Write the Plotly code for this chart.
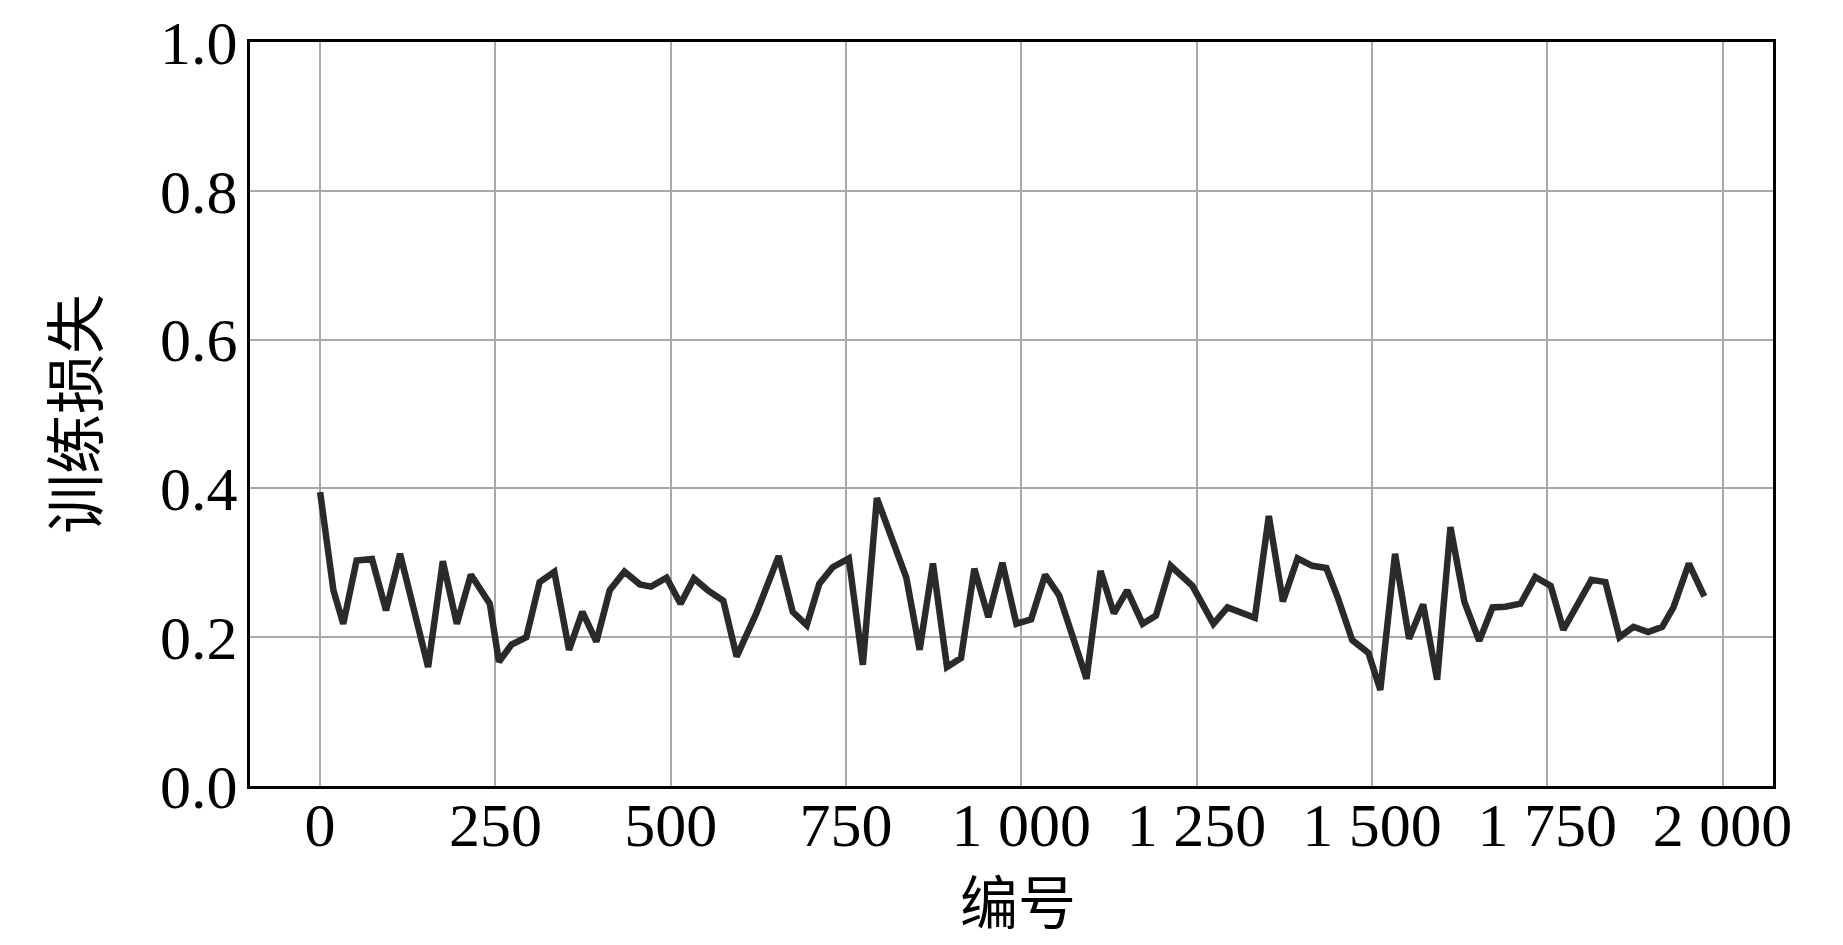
import plotly.graph_objects as go

steps = [0, 19, 33, 52, 74, 94, 114, 154, 175, 195, 215, 230, 242, 255, 273, 294, 313, 334,
         355, 374, 394, 413, 434, 456, 472, 494, 514, 533, 553, 575, 594, 622, 654, 674, 694,
         712, 731, 754, 774, 794, 817, 836, 855, 874, 894, 914, 933, 953, 973, 993, 1014,
         1034, 1054, 1093, 1113, 1132, 1151, 1173, 1192, 1213, 1244, 1274, 1294, 1315, 1333,
         1353, 1373, 1394, 1415, 1435, 1451, 1472, 1495, 1512, 1533, 1553, 1573, 1593, 1612,
         1632, 1653, 1672, 1690, 1712, 1733, 1755, 1773, 1813, 1833, 1853, 1873, 1894, 1914,
         1930, 1952, 1974]
loss = [0.395, 0.263, 0.218, 0.303, 0.305, 0.236, 0.312, 0.160, 0.302, 0.218, 0.284, 0.260,
        0.245, 0.167, 0.190, 0.200, 0.274, 0.288, 0.183, 0.234, 0.194, 0.263, 0.288, 0.271,
        0.268, 0.280, 0.245, 0.279, 0.263, 0.249, 0.174, 0.232, 0.309, 0.234, 0.216, 0.272,
        0.294, 0.306, 0.163, 0.387, 0.325, 0.280, 0.183, 0.299, 0.160, 0.172, 0.292, 0.227,
        0.300, 0.218, 0.224, 0.284, 0.256, 0.144, 0.289, 0.232, 0.263, 0.218, 0.229, 0.296,
        0.269, 0.218, 0.240, 0.232, 0.226, 0.363, 0.248, 0.306, 0.296, 0.293, 0.254, 0.196,
        0.179, 0.129, 0.312, 0.198, 0.244, 0.143, 0.348, 0.247, 0.195, 0.240, 0.241, 0.245,
        0.281, 0.269, 0.210, 0.277, 0.274, 0.200, 0.214, 0.207, 0.214, 0.240, 0.299, 0.255]

x_tickvals = [0, 250, 500, 750, 1000, 1250, 1500, 1750, 2000]
x_ticktext = ["0", "250", "500", "750", "1 000", "1 250", "1 500", "1 750", "2 000"]
y_tickvals = [0.0, 0.2, 0.4, 0.6, 0.8, 1.0]
y_ticktext = ["0.0", "0.2", "0.4", "0.6", "0.8", "1.0"]

x_title = "编号"
y_title = "训练损失"

serif = "Liberation Serif, Times New Roman, serif"
cjk = "Noto Sans CJK SC"

fig = go.Figure()
fig.add_trace(go.Scatter(x=steps, y=loss, mode="lines",
                         line=dict(color="#2a2a2a", width=6.5), showlegend=False))

fig.update_layout(
    width=1827, height=929,
    paper_bgcolor="white", plot_bgcolor="white",
    margin=dict(l=242, r=62, t=34, b=151, autoexpand=False),
    xaxis=dict(
        range=[-100, 2072], automargin=False,
        tickvals=x_tickvals, ticktext=x_ticktext,
        tickfont=dict(family=serif, size=62, color="black"),
        showgrid=True, gridcolor="#a8a8a8", gridwidth=1.5,
        zeroline=False,
        showline=True, linecolor="black", linewidth=3, mirror=True,
        ticks="outside", ticklen=1, tickcolor="rgba(0,0,0,0)",
        ticklabelstandoff=-18, ticklabeloverflow="allow",
    ),
    yaxis=dict(
        range=[0, 1], automargin=False,
        tickvals=y_tickvals, ticktext=y_ticktext,
        tickfont=dict(family=serif, size=62, color="black"),
        showgrid=True, gridcolor="#a8a8a8", gridwidth=1.5,
        zeroline=False,
        showline=True, linecolor="black", linewidth=3, mirror=True,
        ticks="outside", ticklen=6, tickcolor="rgba(0,0,0,0)",
        ticklabelstandoff=-9, ticklabeloverflow="allow",
    ),
    annotations=[
        dict(text=x_title, xref="paper", yref="paper", x=0.5, y=0,
             xanchor="center", yanchor="middle", xshift=6, yshift=-113,
             showarrow=False, font=dict(family=cjk, size=58, color="black")),
        dict(text=y_title, xref="paper", yref="paper", x=0, y=0.5,
             xanchor="center", yanchor="middle", xshift=-179, textangle=-90,
             showarrow=False, font=dict(family=cjk, size=60, color="black")),
    ],
)

fig.write_html("out.html")
